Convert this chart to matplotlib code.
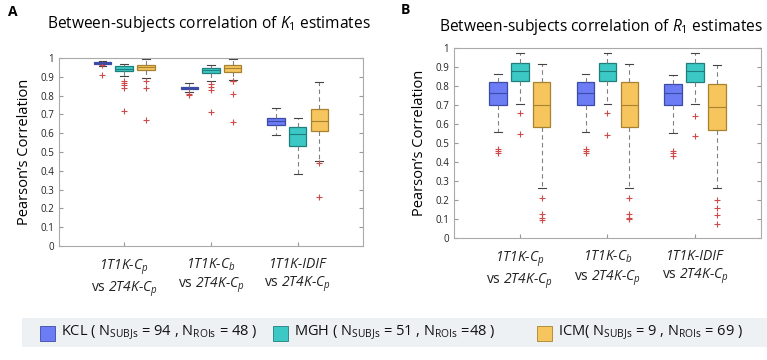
"""Between-subjects correlation of K1 and R1 estimates, box plots per site."""
import matplotlib
matplotlib.use("Agg")
import matplotlib.pyplot as plt
from matplotlib.patches import Rectangle
import numpy as np

plt.rcParams["font.family"] = ["Open Sans", "DejaVu Sans"]
plt.rcParams["mathtext.fontset"] = "custom"
plt.rcParams["mathtext.rm"] = "Open Sans"
plt.rcParams["mathtext.it"] = "Open Sans:italic"

GROUPS = ["1T1K-$C_p$\n$\\mathrm{vs}$ 2T4K-$C_p$",
          "1T1K-$C_b$\n$\\mathrm{vs}$ 2T4K-$C_p$",
          "1T1K-IDIF\n$\\mathrm{vs}$ 2T4K-$C_p$"]
SITES = ["KCL", "MGH", "ICM"]
LEGEND_TXT = ["KCL ( N$_{\\mathrm{SUBJs}}$ = 94 , N$_{\\mathrm{ROIs}}$ = 48 )",
              "MGH ( N$_{\\mathrm{SUBJs}}$ = 51 , N$_{\\mathrm{ROIs}}$ =48 )",
              "ICM( N$_{\\mathrm{SUBJs}}$ = 9 , N$_{\\mathrm{ROIs}}$ = 69 )"]
FACE = ["#6b7cf5", "#3cc9c6", "#f6c55e"]
EDGE = ["#3c4aa8", "#1f7f7d", "#a8822e"]

# K1 panel: rows = site (KCL, MGH, ICM), cols = group
K1_WLO = [[0.955, 0.820, 0.590], [0.905, 0.880, 0.385], [0.895, 0.885, 0.450]]
K1_Q1 = [[0.967, 0.834, 0.643], [0.928, 0.920, 0.530], [0.935, 0.924, 0.613]]
K1_MED = [[0.973, 0.840, 0.665], [0.940, 0.935, 0.595], [0.950, 0.945, 0.665]]
K1_Q3 = [[0.979, 0.848, 0.680], [0.955, 0.948, 0.633], [0.965, 0.960, 0.727]]
K1_WHI = [[0.985, 0.865, 0.733], [0.968, 0.965, 0.680], [0.995, 0.993, 0.872]]
K1_FLIERS = [[[0.91, 0.96], [0.81, 0.805], []],
             [[0.88, 0.865, 0.855, 0.84, 0.72], [0.86, 0.845, 0.83, 0.71], []],
             [[0.875, 0.84, 0.67], [0.88, 0.875, 0.81, 0.66], [0.44, 0.26]]]

# R1 panel
R1_WLO = [[0.56, 0.56, 0.55], [0.705, 0.705, 0.705], [0.262, 0.262, 0.265]]
R1_Q1 = [[0.702, 0.702, 0.700], [0.825, 0.825, 0.822], [0.582, 0.582, 0.570]]
R1_MED = [[0.765, 0.765, 0.760], [0.880, 0.880, 0.880], [0.700, 0.700, 0.690]]
R1_Q3 = [[0.820, 0.820, 0.812], [0.920, 0.920, 0.920], [0.820, 0.820, 0.812]]
R1_WHI = [[0.860, 0.860, 0.855], [0.975, 0.975, 0.975], [0.915, 0.915, 0.912]]
R1_FLIERS = [[[0.47, 0.455, 0.445], [0.47, 0.455, 0.445], [0.46, 0.445, 0.43]],
             [[0.66, 0.545], [0.655, 0.54], [0.64, 0.535]],
             [[0.21, 0.125, 0.105, 0.095], [0.21, 0.125, 0.105, 0.098],
              [0.20, 0.16, 0.12, 0.075]]]

OFFSETS = [-0.25, 0.0, 0.25]


def draw_panel(ax, wlo, q1, med, q3, whi, fliers):
    x = np.arange(1, len(GROUPS) + 1)
    for s in range(len(SITES)):
        stats = []
        for g in range(len(GROUPS)):
            stats.append(dict(whislo=wlo[s][g], q1=q1[s][g], med=med[s][g],
                              q3=q3[s][g], whishi=whi[s][g], fliers=fliers[s][g]))
        ax.bxp(stats, positions=x + OFFSETS[s], widths=0.2, patch_artist=True,
               capwidths=0.09,
               boxprops=dict(facecolor=FACE[s], edgecolor=EDGE[s], linewidth=0.9),
               medianprops=dict(color=EDGE[s], linewidth=0.8),
               whiskerprops=dict(color="#808080", linestyle=(0, (4, 3)), linewidth=0.8),
               capprops=dict(color="#444444", linewidth=0.8),
               flierprops=dict(marker="+", markeredgecolor="#d04a4a",
                               markersize=4, markeredgewidth=0.8))
    ax.set_xlim(0.25, 3.75)
    ax.set_ylim(0, 1)
    ax.set_xticks(x)
    ax.set_xticklabels(GROUPS, fontsize=10, fontstyle="italic")
    ax.set_yticks(np.arange(0, 1.01, 0.1))
    ax.set_yticklabels(["0"] + [f"{v:.1f}" for v in np.arange(0.1, 0.95, 0.1)] + ["1"],
                       fontsize=7)
    ax.tick_params(direction="in", length=3, color="#999999", right=True,
                   labelcolor="#222222")
    ax.tick_params(axis="x", pad=8)
    for sp in ax.spines.values():
        sp.set_color("#aaaaaa")
        sp.set_linewidth(0.8)
    ax.set_ylabel("Pearson’s Correlation", fontsize=10.5, labelpad=6)


fig = plt.figure(figsize=(7.67, 3.6), dpi=100)
axA = fig.add_axes([0.077, 0.317, 0.396, 0.522])
axB = fig.add_axes([0.592, 0.339, 0.400, 0.528])

draw_panel(axA, K1_WLO, K1_Q1, K1_MED, K1_Q3, K1_WHI, K1_FLIERS)
draw_panel(axB, R1_WLO, R1_Q1, R1_MED, R1_Q3, R1_WHI, R1_FLIERS)

fig.text(209 / 767, 1 - 24 / 360, "Between-subjects correlation of $K_1$ estimates",
         fontsize=11.2, ha="center", va="center")
fig.text(601 / 767, 1 - 27 / 360, "Between-subjects correlation of $R_1$ estimates",
         fontsize=11.2, ha="center", va="center")

fig.text(0.010, 0.968, "A", fontsize=10, fontweight="bold", va="center")
fig.text(0.522, 0.972, "B", fontsize=10, fontweight="bold", va="center")

# legend strip at the bottom
fig.patches.append(Rectangle((22 / 767, 1 - 347 / 360), 1 - 22 / 767, 29 / 360,
                             transform=fig.transFigure, facecolor="#eef1f4",
                             edgecolor="none", zorder=0))
patch_x = [40, 273, 537]
for i in range(len(SITES)):
    fig.patches.append(Rectangle((patch_x[i] / 767, 1 - 341 / 360), 15 / 767, 15 / 360,
                                 transform=fig.transFigure, facecolor=FACE[i],
                                 edgecolor=EDGE[i], linewidth=0.6))
    fig.text((patch_x[i] + 21) / 767, 1 - 333 / 360, LEGEND_TXT[i], fontsize=10.5,
             va="center", ha="left", color="#111111")

fig.savefig("out.png", dpi=100)
